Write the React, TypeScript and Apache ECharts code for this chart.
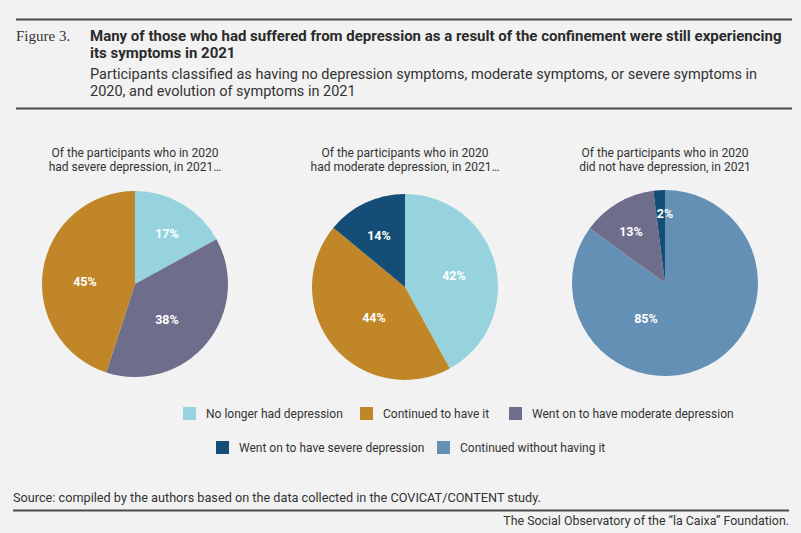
import React, { useEffect, useRef } from "react";
import * as echarts from "echarts";

const CATEGORIES = [
  "No longer had depression",
  "Continued to have it",
  "Went on to have moderate depression",
  "Went on to have severe depression",
  "Continued without having it",
];
const CAT_COLORS = ["#97d3de", "#c08628", "#6e6e8c", "#144e77", "#6490b5"];

const PIE_TITLES = [
  "Of the participants who in 2020\nhad severe depression, in 2021…",
  "Of the participants who in 2020\nhad moderate depression, in 2021…",
  "Of the participants who in 2020\ndid not have depression, in 2021",
];
// slices clockwise from 12 o'clock
const SEVERE_NAMES = ["No longer had depression", "Went on to have moderate depression", "Continued to have it"];
const SEVERE_VALUES = [17, 38, 45];
const MODERATE_NAMES = ["No longer had depression", "Continued to have it", "Went on to have severe depression"];
const MODERATE_VALUES = [42, 44, 14];
const NONE_NAMES = ["Continued without having it", "Went on to have moderate depression", "Went on to have severe depression"];
const NONE_VALUES = [85, 13, 2];

const HEADER_LABEL = "Figure 3.";
const HEADER_TITLE =
  "Many of those who had suffered from depression as a result of the confinement were still experiencing\nits symptoms in 2021";
const HEADER_SUB =
  "Participants classified as having no depression symptoms, moderate symptoms, or severe symptoms in\n2020, and evolution of symptoms in 2021";
const SOURCE = "Source: compiled by the authors based on the data collected in the COVICAT/CONTENT study.";
const FOOTER = "The Social Observatory of the \u201cla Caixa\u201d Foundation.";

// layout (style, not data)
const CENTERS = [
  [135, 284],
  [405, 287],
  [665, 283],
];
const RADIUS = 93;
const LABEL_OFFSETS = [
  [[32, -51], [32, 35], [-50, -3]],
  [[49, -12], [-31, 30], [-26, -52]],
  [[-19, 35], [-34, -52], [0, -70]],
];
const LEGEND_POS = [
  [183, 407],
  [360, 407],
  [509, 407],
  [216, 441],
  [437, 441],
];

const SANS = "Roboto, 'Liberation Sans', sans-serif";
const TEXT = "#333333";
const RULE = "#4a4a4a";

export default function App() {
  const ref = useRef<HTMLDivElement>(null);
  useEffect(() => {
    if (!ref.current) return;
    const chart = echarts.init(ref.current, undefined, { renderer: "svg" });
    const colorOf = (n: string) => CAT_COLORS[CATEGORIES.indexOf(n)];
    const pies = [
      [SEVERE_NAMES, SEVERE_VALUES],
      [MODERATE_NAMES, MODERATE_VALUES],
      [NONE_NAMES, NONE_VALUES],
    ] as [string[], number[]][];

    const series = pies.map(([names, vals], si) => ({
      type: "pie",
      center: CENTERS[si],
      radius: [0, RADIUS],
      startAngle: 90,
      clockwise: true,
      silent: true,
      data: names.map((n, i) => ({ name: n, value: vals[i], itemStyle: { color: colorOf(n) } })),
      label: {
        show: true,
        position: "inside",
        formatter: "{c}%",
        color: "#ffffff",
        fontFamily: SANS,
        fontWeight: "bold",
        fontSize: 12.5,
      },
      labelLine: { show: false },
      labelLayout: (p: any) => {
        const off = LABEL_OFFSETS[si][p.dataIndex];
        return {
          x: CENTERS[si][0] + off[0],
          y: CENTERS[si][1] + off[1],
          align: "center",
          verticalAlign: "middle",
        };
      },
    }));

    const legends = CATEGORIES.map((c, i) => ({
      data: [c],
      left: LEGEND_POS[i][0],
      top: LEGEND_POS[i][1],
      icon: "rect",
      itemWidth: 13,
      itemHeight: 13,
      selectedMode: false,
      padding: 0,
      textStyle: { color: TEXT, fontFamily: SANS, fontSize: 12, padding: [0, 0, 0, 5] },
    }));

    const graphic: any[] = [
      { type: "line", shape: { x1: 16, y1: 19.5, x2: 792, y2: 19.5 }, style: { stroke: RULE, lineWidth: 2 } },
      { type: "line", shape: { x1: 16, y1: 108.5, x2: 792, y2: 108.5 }, style: { stroke: RULE, lineWidth: 2 } },
      { type: "line", shape: { x1: 13, y1: 510.5, x2: 789, y2: 510.5 }, style: { stroke: RULE, lineWidth: 2 } },
      {
        type: "text",
        left: 16,
        top: 28,
        style: { text: HEADER_LABEL, fill: TEXT, font: "15px 'Liberation Serif', serif" },
      },
      {
        type: "text",
        left: 90,
        top: 27.5,
        style: { text: HEADER_TITLE, fill: "#2b2b2b", font: `bold 15px ${SANS}`, lineHeight: 17 },
      },
      {
        type: "text",
        left: 90,
        top: 66,
        style: { text: HEADER_SUB, fill: TEXT, font: `14.5px ${SANS}`, lineHeight: 17 },
      },
      ...PIE_TITLES.map((t, i) => ({
        type: "text",
        x: CENTERS[i][0],
        y: 146,
        style: { text: t, fill: TEXT, font: `12px ${SANS}`, lineHeight: 14, align: "center", verticalAlign: "top" },
      })),
      {
        type: "text",
        left: 13,
        top: 491,
        style: { text: SOURCE, fill: TEXT, font: `12.7px ${SANS}` },
      },
      {
        type: "text",
        right: 12,
        top: 514,
        style: { text: FOOTER, fill: TEXT, font: `12.4px ${SANS}` },
      },
    ];

    chart.setOption({
      animation: false,
      backgroundColor: "#f2f2f2",
      legend: legends,
      series,
      graphic,
    });
    return () => chart.dispose();
  }, []);
  return <div ref={ref} style={{ position: "absolute", left: 0, top: 0, width: 801, height: 533 }} />;
}
